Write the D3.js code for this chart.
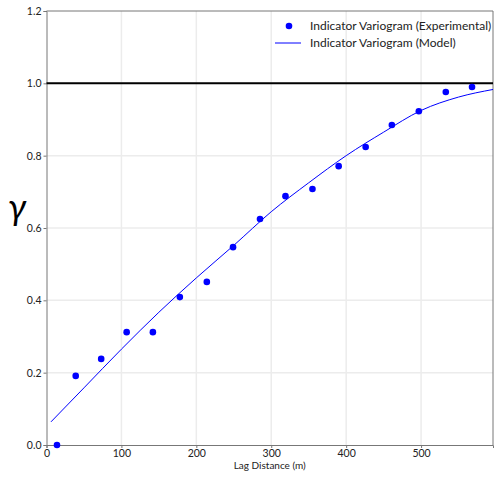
<!DOCTYPE html>
<html>
<head>
<meta charset="utf-8">
<script src="https://cdn.jsdelivr.net/npm/d3@7"></script>
<style>
  body { margin: 0; background: #fff; }
  text { font-family: Lato, "Open Sans", sans-serif; }
</style>
</head>
<body>
<script>
// experimental points (lag distance, gamma)
const lagExp = [14, 39, 73, 107, 142, 178, 214, 249, 285, 319, 355, 390, 426, 461, 497, 533, 568];
const gammaExp = [0.0, 0.191, 0.238, 0.312, 0.312, 0.409, 0.451, 0.547, 0.625, 0.688, 0.708, 0.771, 0.824, 0.885, 0.923, 0.976, 0.990];

// model curve
const lagModel = [6, 50, 100, 150, 200, 250, 300, 350, 400, 450, 500, 550, 596];
const gammaModel = [0.064, 0.158, 0.265, 0.367, 0.462, 0.552, 0.645, 0.725, 0.800, 0.865, 0.925, 0.962, 0.983];

const xTicks = [0, 100, 200, 300, 400, 500];
const yTicks = [0.0, 0.2, 0.4, 0.6, 0.8, 1.0, 1.2];
const sill = 1.0;

const width = 500, height = 477;
const margin = {top: 11, right: 7, bottom: 32, left: 46.5};

const svg = d3.select("body").append("svg")
    .attr("width", width)
    .attr("height", height);

const x = d3.scaleLinear().domain([0, 596]).range([margin.left, width - margin.right]);
const y = d3.scaleLinear().domain([0, 1.2]).range([height - margin.bottom, margin.top]);

// grid
svg.append("g").selectAll("line.gx")
    .data(xTicks.slice(1))
    .enter().append("line")
    .attr("x1", d => x(d)).attr("x2", d => x(d))
    .attr("y1", y(0)).attr("y2", y(1.2))
    .attr("stroke", "#ececec").attr("stroke-width", 1.5);
svg.append("g").selectAll("line.gy")
    .data(yTicks.slice(1, -1))
    .enter().append("line")
    .attr("x1", x(0)).attr("x2", x(596))
    .attr("y1", d => y(d)).attr("y2", d => y(d))
    .attr("stroke", "#ececec").attr("stroke-width", 1.5);

// axes
const xAxis = svg.append("g")
    .attr("transform", `translate(0,${y(0)})`)
    .call(d3.axisBottom(x).tickValues(xTicks).tickSize(3).tickPadding(2).tickFormat(d3.format("d")));
const yAxis = svg.append("g")
    .attr("transform", `translate(${x(0)},0)`)
    .call(d3.axisLeft(y).tickValues(yTicks).tickSize(3).tickPadding(2).tickFormat(d3.format(".1f")));
[xAxis, yAxis].forEach(a => {
    a.select(".domain").attr("stroke", "#777");
    a.selectAll(".tick line").attr("stroke", "#777");
    a.selectAll(".tick text").attr("fill", "#222").attr("font-size", 10.5);
});

// box top / right
svg.append("line")
    .attr("x1", x(0)).attr("x2", x(596)).attr("y1", y(1.2)).attr("y2", y(1.2))
    .attr("stroke", "#777");
svg.append("line")
    .attr("x1", x(596)).attr("x2", x(596)).attr("y1", y(0)).attr("y2", y(1.2))
    .attr("stroke", "#777");

// sill
svg.append("line")
    .attr("x1", x(0)).attr("x2", x(596))
    .attr("y1", y(sill)).attr("y2", y(sill))
    .attr("stroke", "#000").attr("stroke-width", 2);

// model
const model = lagModel.map((d, i) => [d, gammaModel[i]]);
svg.append("path")
    .datum(model)
    .attr("fill", "none")
    .attr("stroke", "#0000ff")
    .attr("stroke-width", 1)
    .attr("d", d3.line().x(d => x(d[0])).y(d => y(d[1])).curve(d3.curveMonotoneX));

// experimental
svg.append("g").selectAll("circle")
    .data(lagExp.map((d, i) => [d, gammaExp[i]]))
    .enter().append("circle")
    .attr("cx", d => x(d[0]))
    .attr("cy", d => y(d[1]))
    .attr("r", 3.3)
    .attr("fill", "#0000ff");

// labels
svg.append("text")
    .attr("x", (x(0) + x(596)) / 2)
    .attr("y", 469)
    .attr("text-anchor", "middle")
    .attr("font-size", 10)
    .attr("fill", "#222")
    .text("Lag Distance (m)");

svg.append("text")
    .attr("x", 8)
    .attr("y", 220)
    .attr("font-size", 36)
    .attr("font-style", "italic")
    .attr("fill", "#000")
    .text("γ");

// legend
const legend = svg.append("g");
legend.append("circle").attr("cx", 289).attr("cy", 26).attr("r", 3.3).attr("fill", "#0000ff");
legend.append("line").attr("x1", 275).attr("x2", 301).attr("y1", 43).attr("y2", 43)
    .attr("stroke", "#0000ff").attr("stroke-width", 1);
legend.append("text").attr("x", 310).attr("y", 30).attr("font-size", 12).attr("fill", "#222")
    .text("Indicator Variogram (Experimental)");
legend.append("text").attr("x", 310).attr("y", 47).attr("font-size", 12).attr("fill", "#222")
    .text("Indicator Variogram (Model)");
</script>
</body>
</html>
